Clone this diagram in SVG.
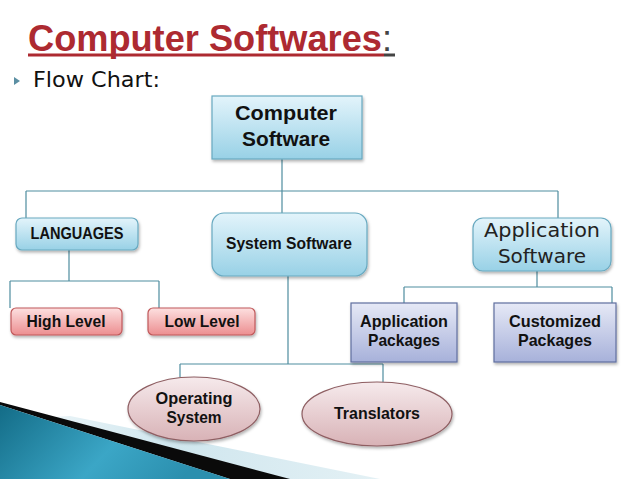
<svg xmlns="http://www.w3.org/2000/svg" width="638" height="479" viewBox="0 0 638 479">
<defs>
<linearGradient id="gBlue" x1="0" y1="0" x2="0" y2="1"><stop offset="0" stop-color="#e3f4fb"/><stop offset="1" stop-color="#98d1e6"/></linearGradient>
<linearGradient id="gPink" x1="0" y1="0" x2="0" y2="1"><stop offset="0" stop-color="#fde0e0"/><stop offset="1" stop-color="#ec8e90"/></linearGradient>
<linearGradient id="gLav" x1="0" y1="0" x2="0" y2="1"><stop offset="0" stop-color="#e6e9f6"/><stop offset="1" stop-color="#a7b1da"/></linearGradient>
<linearGradient id="gRose" x1="0" y1="0" x2="0" y2="1"><stop offset="0" stop-color="#f6eaec"/><stop offset="1" stop-color="#d8b2b6"/></linearGradient>
<linearGradient id="gTeal" x1="0" y1="0" x2="1" y2="0.3"><stop offset="0" stop-color="#136c87"/><stop offset="0.6" stop-color="#3ba6c6"/><stop offset="1" stop-color="#2b8fae"/></linearGradient>
<linearGradient id="gPale" x1="0" y1="0" x2="1" y2="0"><stop offset="0" stop-color="#cfe6ee" stop-opacity="0.2"/><stop offset="0.45" stop-color="#cfe6ee"/><stop offset="1" stop-color="#e4f1f5"/></linearGradient>
<filter id="sh" x="-10%" y="-10%" width="125%" height="135%"><feDropShadow dx="1" dy="2" stdDeviation="1.5" flood-color="#000" flood-opacity="0.3"/></filter>
</defs>
<style>
.conn{fill:none;stroke:#4f8d9f;stroke-width:1.2}
.blue{fill:url(#gBlue);stroke:#68a9c0;stroke-width:1.2}
.pink{fill:url(#gPink);stroke:#c0585a;stroke-width:1.2}
.lav{fill:url(#gLav);stroke:#5f6f9f;stroke-width:1.2}
.rose{fill:url(#gRose);stroke:#8e5e62;stroke-width:1.2}
.b{font-family:"Liberation Sans",Arial,sans-serif;font-weight:bold;fill:#111;text-anchor:middle}
.r{font-family:"DejaVu Sans","Liberation Sans",sans-serif;fill:#222;text-anchor:middle}
</style>
<rect width="638" height="479" fill="#ffffff"/>

<g id="decoration">
<polygon points="70,416 380,479 0,479 0,420" fill="url(#gPale)"/>
<polygon points="0,402 290,479 230,479 0,405" fill="#0a0a0a"/>
<polygon points="0,405 230,479 0,479" fill="url(#gTeal)"/>
</g>

<g id="title">
<text x="28" y="51" font-family="Liberation Sans,Arial,sans-serif" font-weight="bold" font-size="36.2" fill="#ad2a31">Computer Softwares<tspan font-weight="normal" fill="#444">:</tspan></text>
<rect x="28" y="53.5" width="356" height="3" fill="#ad2a31"/>
<rect x="384" y="53.5" width="11" height="3" fill="#444"/>
</g>

<g id="subtitle">
<polygon points="14,77 20,81 14,85" fill="#5b8fa3"/>
<text x="33" y="87" font-family="DejaVu Sans,sans-serif" font-size="22" fill="#111" textLength="127" lengthAdjust="spacingAndGlyphs">Flow Chart:</text>
</g>

<g id="connectors">
<path class="conn" d="M282,159 V191 M26,191 H558 M26,191 V218 M282,191 V213 M558,191 V218"/>
<path class="conn" d="M69,250 V281 M10,281 H159 M10,281 V308 M159,281 V308"/>
<path class="conn" d="M288,276 V364 M180,364 H383 M180,364 V377 M383,364 V382"/>
<path class="conn" d="M537,271 V287 M404,287 H612 M404,287 V303 M612,287 V303"/>
</g>

<g id="computer-software">
<rect class="blue" x="212" y="96" width="150" height="63" filter="url(#sh)"/>
<text class="b" x="286" y="120" font-size="21" textLength="102" lengthAdjust="spacingAndGlyphs">Computer</text>
<text class="b" x="286" y="146" font-size="21" textLength="88" lengthAdjust="spacingAndGlyphs">Software</text>
</g>

<g id="languages">
<rect class="blue" x="16" y="218" width="122" height="32" rx="6" filter="url(#sh)"/>
<text class="b" x="77" y="239" font-size="17" textLength="93" lengthAdjust="spacingAndGlyphs">LANGUAGES</text>
</g>

<g id="system-software">
<rect class="blue" x="212" y="213" width="155" height="63" rx="12" filter="url(#sh)"/>
<text class="b" x="289" y="249" font-size="17" textLength="126" lengthAdjust="spacingAndGlyphs">System Software</text>
</g>

<g id="application-software">
<rect class="blue" x="473" y="218" width="138" height="53" rx="10" filter="url(#sh)"/>
<text class="r" x="542" y="237" font-size="20" textLength="116" lengthAdjust="spacingAndGlyphs">Application</text>
<text class="r" x="542" y="263" font-size="20">Software</text>
</g>

<g id="high-level">
<rect class="pink" x="11" y="308" width="111" height="27" rx="5" filter="url(#sh)"/>
<text class="b" x="66" y="327" font-size="17" textLength="79" lengthAdjust="spacingAndGlyphs">High Level</text>
</g>

<g id="low-level">
<rect class="pink" x="148" y="308" width="107" height="27" rx="5" filter="url(#sh)"/>
<text class="b" x="202" y="327" font-size="17" textLength="75" lengthAdjust="spacingAndGlyphs">Low Level</text>
</g>

<g id="application-packages">
<rect class="lav" x="351" y="303" width="106" height="59" filter="url(#sh)"/>
<text class="b" x="404" y="327" font-size="17" textLength="88" lengthAdjust="spacingAndGlyphs">Application</text>
<text class="b" x="404" y="346" font-size="17" textLength="72" lengthAdjust="spacingAndGlyphs">Packages</text>
</g>

<g id="customized-packages">
<rect class="lav" x="494" y="303" width="122" height="59" filter="url(#sh)"/>
<text class="b" x="555" y="327" font-size="17" textLength="92" lengthAdjust="spacingAndGlyphs">Customized</text>
<text class="b" x="555" y="346" font-size="17" textLength="74" lengthAdjust="spacingAndGlyphs">Packages</text>
</g>

<g id="operating-system">
<ellipse class="rose" cx="194" cy="409" rx="66" ry="32" filter="url(#sh)"/>
<text class="b" x="194" y="404" font-size="17" textLength="77" lengthAdjust="spacingAndGlyphs">Operating</text>
<text class="b" x="194" y="423" font-size="17" textLength="55" lengthAdjust="spacingAndGlyphs">System</text>
</g>

<g id="translators">
<ellipse class="rose" cx="377" cy="414" rx="75" ry="32" filter="url(#sh)"/>
<text class="b" x="377" y="419" font-size="17" textLength="86" lengthAdjust="spacingAndGlyphs">Translators</text>
</g>
</svg>
